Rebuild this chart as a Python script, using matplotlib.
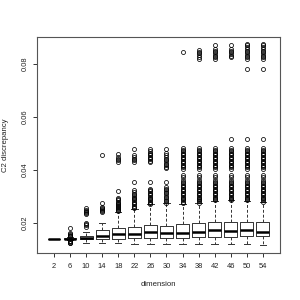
import matplotlib
matplotlib.use("Agg")
import matplotlib.pyplot as plt

# boxplot summary per dimension
dims = [2, 6, 10, 14, 18, 22, 26, 30, 34, 38, 42, 46, 50, 54]
q1 = [0.01395, 0.0140, 0.0139, 0.0140, 0.0140, 0.0143, 0.0143, 0.0143, 0.0143, 0.0146, 0.0149, 0.0149, 0.0150, 0.0150]
med = [0.0140, 0.0142, 0.0143, 0.0152, 0.0158, 0.0160, 0.0165, 0.0161, 0.0161, 0.0165, 0.0173, 0.0171, 0.0173, 0.0168]
q3 = [0.01405, 0.0144, 0.0152, 0.0174, 0.0180, 0.0184, 0.0193, 0.0190, 0.0196, 0.0199, 0.0205, 0.0205, 0.0206, 0.0205]
whislo = [0.0139, 0.0137, 0.0124, 0.0124, 0.0124, 0.0122, 0.0122, 0.0120, 0.0120, 0.0120, 0.0120, 0.0120, 0.0120, 0.0118]
whishi = [0.0141, 0.0147, 0.0166, 0.0199, 0.0242, 0.0253, 0.0270, 0.0274, 0.0272, 0.0274, 0.0284, 0.0286, 0.0282, 0.0278]

# outliers
fliers_2 = []
fliers_6 = [0.0180, 0.0161, 0.0158, 0.0155, 0.0152, 0.0150, 0.0134, 0.0132, 0.0130, 0.0127, 0.0124]
fliers_10 = [0.0184, 0.0193, 0.0197, 0.0201, 0.0236, 0.0239, 0.0243, 0.0247, 0.0251, 0.0255]
fliers_14 = [0.0242, 0.0246, 0.0250, 0.0254, 0.0258, 0.0261, 0.0276, 0.0455]
fliers_18 = [0.0245, 0.0249, 0.0253, 0.0257, 0.0261, 0.0265, 0.0269, 0.0273, 0.0277, 0.0281,
             0.0286, 0.0290, 0.0296, 0.0321, 0.0430, 0.0436, 0.0442, 0.0450, 0.0459]
fliers_22 = [0.0256, 0.0260, 0.0265, 0.0270, 0.0275, 0.0280, 0.0285, 0.0290, 0.0295, 0.0300,
             0.0305, 0.0310, 0.0318, 0.0324, 0.0355, 0.0430, 0.0436, 0.0442, 0.0448, 0.0455, 0.0480]
fliers_26 = [0.0272, 0.0276, 0.0280, 0.0285, 0.0290, 0.0295, 0.0300, 0.0305, 0.0310, 0.0315,
             0.0320, 0.0325, 0.0330, 0.0355, 0.0430, 0.0435, 0.0440, 0.0445, 0.0450, 0.0455,
             0.0460, 0.0465, 0.0470, 0.0480]
fliers_30 = [0.0276, 0.0282, 0.0288, 0.0294, 0.0300, 0.0306, 0.0312, 0.0318, 0.0324, 0.0330,
             0.0337, 0.0355, 0.0406, 0.0412, 0.0418, 0.0424, 0.0430, 0.0436, 0.0442, 0.0448,
             0.0455, 0.0462, 0.0480]
lower_band = [0.0286, 0.0290, 0.0295, 0.0300, 0.0305, 0.0310, 0.0315, 0.0320, 0.0325, 0.0330,
              0.0335, 0.0340, 0.0345, 0.0350, 0.0355, 0.0361, 0.0375, 0.0380]
upper_band = [0.0405, 0.0410, 0.0415, 0.0420, 0.0425, 0.0430, 0.0435, 0.0440, 0.0445, 0.0450,
              0.0455, 0.0460, 0.0465, 0.0470, 0.0475, 0.0484]
fliers_34 = [0.0275, 0.0280] + lower_band + upper_band + [0.0842]
fliers_38 = [0.0277, 0.0282] + lower_band + upper_band + [0.0818, 0.0825, 0.0832, 0.0838, 0.0845, 0.0851]
fliers_42 = lower_band + upper_band + [0.0818, 0.0824, 0.0830, 0.0836, 0.0842, 0.0848, 0.0855, 0.0868]
fliers_46 = lower_band + upper_band + [0.0518, 0.0824, 0.0830, 0.0836, 0.0842, 0.0848, 0.0855, 0.0868]
fliers_50 = lower_band + upper_band + [0.0518, 0.0780, 0.0818, 0.0824, 0.0830, 0.0836, 0.0842,
                                       0.0848, 0.0855, 0.0862, 0.0868, 0.0874]
fliers_54 = [0.0281] + lower_band + upper_band + [0.0518, 0.0780, 0.0818, 0.0824, 0.0830, 0.0836,
                                                  0.0842, 0.0848, 0.0855, 0.0862, 0.0868, 0.0874]
fliers = [fliers_2, fliers_6, fliers_10, fliers_14, fliers_18, fliers_22, fliers_26,
          fliers_30, fliers_34, fliers_38, fliers_42, fliers_46, fliers_50, fliers_54]

stats = []
for i, d in enumerate(dims):
    stats.append(dict(label=str(d), q1=q1[i], med=med[i], q3=q3[i],
                      whislo=whislo[i], whishi=whishi[i], fliers=fliers[i]))

fig = plt.figure(figsize=(3, 3), dpi=100)
ax = fig.add_axes([0.123, 0.157, 0.81, 0.72])

line_col = "#333333"
ax.bxp(stats, positions=range(1, len(dims) + 1), widths=0.8,
       boxprops=dict(color=line_col, linewidth=0.7),
       medianprops=dict(color="black", linewidth=1.8, solid_capstyle="butt"),
       whiskerprops=dict(color=line_col, linewidth=0.7, linestyle=(0, (3, 2))),
       capprops=dict(color=line_col, linewidth=0.7),
       capwidths=0.4,
       flierprops=dict(marker="o", markerfacecolor="none", markeredgecolor="black",
                       markersize=2.9, markeredgewidth=0.55))

ax.set_xlim(-0.06, 15.06)
ax.set_ylim(0.0088, 0.0900)
ax.set_yticks([0.02, 0.04, 0.06, 0.08])
ax.set_yticklabels(["0.02", "0.04", "0.06", "0.08"], rotation=90, va="center")

for s in ax.spines.values():
    s.set_color("#555555")
    s.set_linewidth(0.8)

ax.tick_params(axis="both", length=3, width=0.7, colors="#333333", labelsize=5.4, pad=4)
ax.tick_params(axis="y", pad=3)
for lab in ax.get_xticklabels() + ax.get_yticklabels():
    lab.set_fontfamily("Liberation Sans")
    lab.set_color("#222222")

ax.set_xlabel("dimension", fontsize=5.6, family="Liberation Sans", color="#222222", labelpad=8)
ax.set_ylabel("C2 discrepancy", fontsize=5.6, family="Liberation Sans", color="#222222", labelpad=9)

fig.savefig("out.png", dpi=100)
